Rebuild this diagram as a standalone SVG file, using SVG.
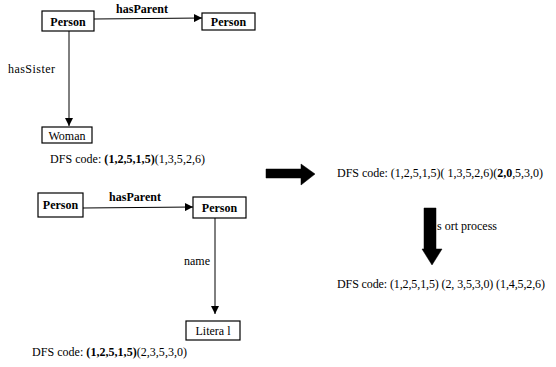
<svg xmlns="http://www.w3.org/2000/svg" width="556" height="367" viewBox="0 0 556 367">
<style>
text{font-size:12px;fill:#000}
.b{font-weight:bold}
.box{fill:#fff;stroke:#000;stroke-width:1.2}
.edge{stroke:#000;stroke-width:1;fill:none}
.big{fill:#000;stroke:#000;stroke-width:0.5}
</style>
<defs>
<marker id="ah" viewBox="0 0 10 10" refX="10" refY="5" markerWidth="9" markerHeight="8" markerUnits="userSpaceOnUse" orient="auto">
<path d="M0,0 L10,5 L0,10 Z" fill="#000"/>
</marker>
</defs>
<rect width="556" height="367" fill="#fff"/>
<g font-family="Liberation Serif">
<g id="connectors">
<line class="edge" x1="94" y1="19" x2="202" y2="18" marker-end="url(#ah)"/>
<line class="edge" x1="69" y1="31" x2="69" y2="126" marker-end="url(#ah)"/>
<line class="edge" x1="83" y1="208" x2="193" y2="207" marker-end="url(#ah)"/>
<line class="edge" x1="215" y1="218" x2="215" y2="314" marker-end="url(#ah)"/>
<text class="b" x="142" y="13" text-anchor="middle">hasParent</text>
<text x="8" y="73" textLength="47">hasSister</text>
<text class="b" x="135" y="201" text-anchor="middle">hasParent</text>
<text x="184" y="265">name</text>
</g>
<g id="n-person1">
<rect class="box" x="42" y="11" width="52" height="20"/>
<text class="b" x="68" y="25.5" text-anchor="middle">Person</text>
</g>
<g id="n-person2">
<rect class="box" x="202" y="13" width="53" height="17"/>
<text class="b" x="228.5" y="26" text-anchor="middle">Person</text>
</g>
<g id="n-woman">
<rect class="box" x="42" y="127" width="50" height="16"/>
<text x="67" y="139.5" text-anchor="middle">Woman</text>
</g>
<g id="n-person3">
<rect class="box" x="38" y="193" width="45" height="24"/>
<text class="b" x="60.5" y="209" text-anchor="middle">Person</text>
</g>
<g id="n-person4">
<rect class="box" x="193" y="197" width="53" height="21"/>
<text class="b" x="219.5" y="212" text-anchor="middle">Person</text>
</g>
<g id="n-literal">
<rect class="box" x="186" y="321" width="54" height="19"/>
<text x="213" y="334.5" text-anchor="middle">Litera l</text>
</g>
<g id="codes">
<text x="50" y="163" textLength="155">DFS code: <tspan class="b">(1,2,5,1,5)</tspan>(1,3,5,2,6)</text>
<text x="32" y="356" textLength="155">DFS code: <tspan class="b">(1,2,5,1,5)</tspan>(2,3,5,3,0)</text>
<text x="337" y="177" textLength="206">DFS code: (1,2,5,1,5)( 1,3,5,2,6)(<tspan class="b">2,0</tspan>,5,3,0)</text>
<text x="337" y="288" textLength="208">DFS code: (1,2,5,1,5) (2, 3,5,3,0) (1,4,5,2,6)</text>
</g>
<g id="big-arrows">
<path class="big" d="M266,169 L301,169 L301,164 L315,174 L301,185 L301,178 L266,178 Z"/>
<path class="big" d="M424,208 L436,208 L436,249 L442,249 L432,265 L422,249 L424,249 Z"/>
<text x="437" y="230">s ort process</text>
</g>
</g>
</svg>
